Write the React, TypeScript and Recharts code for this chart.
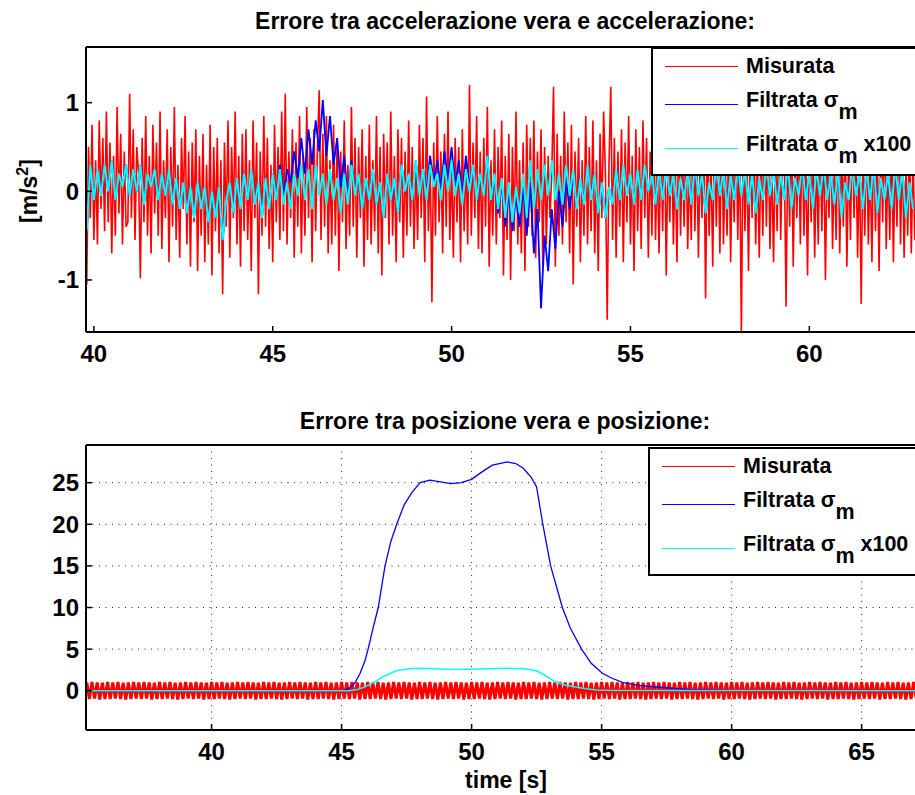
import React from "react";
import { LineChart, Line, XAxis, YAxis, CartesianGrid, Legend } from "recharts";

const FONT = '"Liberation Sans", Arial, Helvetica, sans-serif';
const RED = "#ff0000";
const BLUE = "#0000ff";
const CYAN = "#00ffff";

const TITLES = [
  "Errore tra accelerazione vera e accelerazione:",
  "Errore tra posizione vera e posizione:",
];
const LEGEND_LABELS = ["Misurata", "Filtrata σ", "Filtrata σ"];
const LEGEND_SUBS = ["", "m", "m"];
const LEGEND_SUFFIX = ["", "", " x100"];
const SERIES_COLORS = [RED, BLUE, CYAN];

const ACC_TICKS_X = [40, 45, 50, 55, 60];
const ACC_TICKS_Y = [-1, 0, 1];
const POS_TICKS_X = [40, 45, 50, 55, 60, 65];
const POS_TICKS_Y = [0, 5, 10, 15, 20, 25];

// measured acceleration error, every 0.05 s from 39.8 s (one row = 1 s)
const RED_ACC_T0 = 39.8;
const RED_ACC_DT = 0.05;
const RED_ACC = [
  -1.05, 0.5, -0.3, 0.75, -0.55, 0.35, -0.6, 0.8, -0.2, 0.6, -0.45, 0.9, -0.35, 0.55, -0.7, 0.4, -0.5, 0.95, -0.25, 0.65,
  -0.6, 0.45, -0.4, -0.35, 1.1, -0.3, 0.7, -0.55, 0.5, 0.2, -0.98, 0.6, -0.35, 0.85, -0.5, 0.4, -0.7, 0.75, -0.25, 0.55,
  -0.5, 0.9, -0.65, 0.35, -0.3, 0.7, -0.8, 0.5, -0.4, 0.95, -0.55, 0.3, -0.75, 0.6, -0.2, 0.85, -0.6, 0.45, -0.85, 0.55,
  -0.35, 0.7, -0.9, 0.4, -0.5, 0.65, -0.8, 0.3, -0.6, 0.75, -0.95, 0.5, -0.45, 0.6, -0.7, 0.35, -1.16, 0.55, -0.4, 0.8,
  -0.75, 0.5, -0.3, 0.9, -0.6, 0.4, -0.85, 0.65, -0.45, 0.7, -0.55, 0.35, -0.9, 0.8, -0.3, 0.55, -1.16, 0.45, -0.5, 0.85,
  -0.4, 0.6, -0.65, 0.3, -0.8, 0.75, -0.35, 0.5, -0.55, 0.9, -0.45, 1.1, -0.6, 0.45, -0.3, 0.7, -0.75, 0.55, -0.4, 0.85,
  -0.7, 0.4, -0.5, 0.95, -0.3, 0.6, -0.8, 0.7, -0.45, 0.5, 1.14, -0.55, 0.65, -0.4, 0.85, -0.7, 0.35, -0.6, 0.75, -0.5,
  0.55, -0.9, 0.45, -0.35, 0.8, -0.65, 0.3, -0.5, 0.95, -0.4, 0.6, -0.75, 0.5, -0.3, 0.7, -0.85, 0.4, -0.55, 0.75, -0.6,
  0.35, -0.45, 0.85, -0.7, 0.5, -0.95, 0.65, -0.3, 0.55, -0.6, 0.9, -0.5, 0.4, -0.8, 0.7, -0.35, 0.6, -0.75, 0.45, -0.5,
  0.8, -0.4, 0.5, -0.65, 0.35, -0.55, 0.75, -0.3, 0.6, -0.8, 1.07, -0.45, 0.4, -1.25, 0.55, -0.5, 0.85, -0.35, 0.45, -0.7,
  0.65, -0.4, 0.9, -0.55, 0.3, -0.75, 0.6, -0.35, 0.5, -0.8, 0.7, -0.45, 0.4, -0.6, 1.2, -0.5, 0.55, -0.3, 0.85, -0.65,
  0.45, -0.7, 0.6, -0.4, 0.95, -0.85, 0.35, -0.5, 0.7, -0.6, 0.5, -0.3, 0.8, -0.95, 0.4, -0.55, 0.65, -1.0, 0.5, -0.45,
  0.9, -0.6, 0.35, -0.7, 0.55, -0.9, 0.75, -0.4, 0.6, -0.5, 0.8, -0.75, 0.45, -0.35, 0.7, -0.85, 0.5, -0.6, 0.4, -0.3,
  0.2, 1.18, -0.85, 0.65, -0.5, 0.4, -0.6, 0.9, -0.35, 0.55, -0.7, 0.75, -1.05, 0.45, -0.4, 0.6, -0.8, 0.35, -0.5, 0.85,
  -0.6, 0.5, -0.45, 0.8, -0.7, 0.35, -0.9, 0.65, -0.3, 0.9, 0.2, -1.45, 0.3, 1.18, -0.55, 0.6, -0.75, 0.45, -0.4, 0.7,
  -0.8, 0.55, -0.35, 0.85, -0.6, 0.4, -0.9, 0.7, -0.45, 0.5, -0.65, 0.8, -0.3, 0.6, -0.75, 0.45, -0.5, 0.9, -0.55, 0.35,
  -0.7, 0.65, -0.45, 0.8, -0.95, 0.5, -0.35, 0.75, -0.6, 0.4, -0.8, 0.85, -0.5, 0.55, -0.4, 0.7, -0.65, 0.3, -0.55, 0.9,
  -0.45, 0.6, -0.75, 0.5, -0.3, 0.8, -1.21, 0.65, -0.5, 0.4, -0.85, 0.75, -0.4, 0.55, -0.7, 0.9, -0.6, 0.35, -0.5, 0.7,
  -0.8, 0.45, -0.35, 0.85, -0.55, 0.6, -1.6, 0.7, -0.45, 0.5, -0.9, 0.65, -0.3, 0.8, -0.6, 0.4, -0.75, 0.55, -0.5, 0.85,
  -0.4, 0.7, -0.65, 0.35, -0.8, 0.6, -0.45, 0.9, -0.55, 0.5, 0.4, -1.3, 0.6, -0.4, 0.75, -0.85, 0.5, -0.3, 0.65, -0.6,
  0.8, -0.5, 0.45, -0.95, 0.7, -0.35, 0.55, -0.75, 0.4, -0.6, 0.85, -0.45, 0.6, -1.0, 0.5, -0.3, 0.75, -0.65, 0.35, -0.55,
  0.9, -0.7, 0.5, -0.4, 0.65, -0.85, 0.45, -0.55, 0.8, -0.3, 0.6, -0.75, 0.4, -1.27, 0.55, -0.5, 0.7, -0.6, 0.35, -0.8,
  0.75, -0.45, 0.5, -0.9, 0.6, -0.35, 0.85, -0.65, 0.4, -0.55, 0.7, -0.8, 0.45, -0.4, 0.9, -0.6, 0.55, -0.75, 0.3, -0.5,
  0.65, -0.7, 0.4, -0.55,
];

// filtered acceleration error, every 0.1 s from 39.8 s
const FILT_ACC_T0 = 39.8;
const FILT_ACC_DT = 0.1;
const BLUE_ACC = [
  -0.45, 0.3, -0.1, 0.25, -0.05, 0.3, 0.0, 0.35, -0.1, 0.2,
  0.05, 0.3, -0.05, 0.25, 0.0, 0.3, -0.15, 0.2, 0.05, 0.25,
  -0.1, 0.2, -0.05, 0.25, -0.15, 0.15, -0.2, 0.1, -0.25, 0.05,
  -0.3, 0.1, -0.2, 0.05, -0.35, 0.0, -0.3, 0.05, -0.55, -0.1,
  0.1, -0.25, 0.15, -0.2, 0.2, -0.1, 0.25, -0.15, 0.1, -0.3,
  0.15, -0.2, 0.2, -0.1, 0.3, -0.05, 0.25, 0.1, 0.45, 0.15,
  0.6, 0.2, 0.7, 0.3, 0.8, 0.45, 1.03, 0.4, 0.85, 0.3,
  0.6, 0.05, 0.4, -0.1, 0.35, -0.05, 0.2, -0.2, 0.15, -0.1,
  0.25, -0.15, 0.1, -0.3, 0.2, -0.1, 0.15, -0.25, 0.3, 0.0,
  0.2, -0.1, 0.35, -0.05, 0.25, 0.0, 0.4, 0.1, 0.35, 0.0,
  0.45, 0.1, 0.5, 0.05, 0.35, -0.05, 0.4, 0.05, 0.3, -0.1,
  0.2, -0.05, 0.4, -0.1, 0.15, -0.25, 0.1, -0.4, 0.0, -0.45,
  -0.05, -0.4, 0.1, -0.5, 0.1, -0.7, -0.2, -1.32, -0.5, -0.9,
  -0.2, -0.65, 0.0, -0.4, 0.15, -0.2, 0.25, -0.2, 0.15, -0.15,
  0.3, -0.1, 0.2, -0.25, 0.1, -0.3, 0.05, -0.15, 0.25, -0.1,
  0.3, -0.05, 0.2, -0.15, 0.25, -0.1, 0.3, 0.0, 0.2, -0.15,
  0.25, -0.1, 0.3, -0.05, 0.2, -0.2, 0.15, -0.1, 0.25, -0.15,
  0.3, -0.05, 0.2, -0.25, 0.1, -0.1, 0.3, -0.05, 0.25, -0.2,
  0.2, -0.1, 0.3, -0.05, 0.25, -0.15, 0.2, -0.25, 0.15, -0.1,
  0.3, -0.05, 0.25, -0.15, 0.2, -0.1, 0.3, -0.2, 0.15, -0.05,
  0.3, -0.1, 0.2, -0.2, 0.25, -0.05, 0.3, -0.1, 0.2, -0.15,
  0.25, -0.3, 0.1, -0.1, 0.3, -0.05, 0.2, -0.2, 0.25, -0.1,
  0.3, -0.25, 0.15, -0.1, 0.2, -0.2, 0.3, -0.1, 0.25, -0.3,
  0.1, -0.2,
];
const CYAN_ACC = [
  -0.45, 0.3, -0.1, 0.25, -0.05, 0.3, 0.0, 0.35, -0.1, 0.2,
  0.05, 0.3, -0.05, 0.25, 0.0, 0.3, -0.15, 0.2, 0.05, 0.25,
  -0.1, 0.2, -0.05, 0.25, -0.15, 0.15, -0.2, 0.1, -0.25, 0.05,
  -0.3, 0.1, -0.2, 0.05, -0.35, 0.0, -0.3, 0.05, -0.55, -0.1,
  0.1, -0.25, 0.15, -0.2, 0.2, -0.1, 0.25, -0.15, 0.1, -0.3,
  0.15, -0.2, 0.2, -0.1, 0.25, -0.15, 0.1, -0.2, 0.2, -0.05,
  0.3, -0.1, 0.25, -0.2, 0.3, -0.05, 0.2, -0.15, 0.25, -0.1,
  0.15, -0.25, 0.2, -0.15, 0.3, -0.05, 0.2, -0.2, 0.15, -0.1,
  0.25, -0.15, 0.1, -0.3, 0.2, -0.1, 0.15, -0.25, 0.3, 0.0,
  0.2, -0.1, 0.35, -0.05, 0.25, -0.1, 0.3, 0.05, 0.2, -0.1,
  0.3, 0.0, 0.35, -0.05, 0.2, -0.15, 0.25, 0.0, 0.3, -0.1,
  0.2, -0.05, 0.4, -0.1, 0.2, -0.2, 0.15, -0.3, 0.1, -0.35,
  0.05, -0.25, 0.2, -0.3, 0.35, -0.2, 0.25, -0.1, 0.3, -0.05,
  0.35, -0.1, 0.2, -0.15, 0.3, -0.05, 0.25, -0.2, 0.15, -0.15,
  0.3, -0.1, 0.2, -0.25, 0.1, -0.3, 0.05, -0.15, 0.25, -0.1,
  0.3, -0.05, 0.2, -0.15, 0.25, -0.1, 0.3, 0.0, 0.2, -0.15,
  0.25, -0.1, 0.3, -0.05, 0.2, -0.2, 0.15, -0.1, 0.25, -0.15,
  0.3, -0.05, 0.2, -0.25, 0.1, -0.1, 0.3, -0.05, 0.25, -0.2,
  0.2, -0.1, 0.3, -0.05, 0.25, -0.15, 0.2, -0.25, 0.15, -0.1,
  0.3, -0.05, 0.25, -0.15, 0.2, -0.1, 0.3, -0.2, 0.15, -0.05,
  0.3, -0.1, 0.2, -0.2, 0.25, -0.05, 0.3, -0.1, 0.2, -0.15,
  0.25, -0.3, 0.1, -0.1, 0.3, -0.05, 0.2, -0.2, 0.25, -0.1,
  0.3, -0.25, 0.15, -0.1, 0.2, -0.2, 0.3, -0.1, 0.25, -0.3,
  0.1, -0.2,
];

// position error: measured (dense oscillation) every 0.1 s from 35.2 s
const POS_T0 = 35.2;
const POS_DT = 0.1;
const RED_POS = [
  1.0, -1.0, 1.05, -0.95, 1.0, -1.05, 0.95, -1.0, 1.05, -1.0,
  1.0, -0.95, 1.05, -1.0, 0.95, -1.05, 1.0, -1.0, 1.05, -0.95,
  1.0, -1.0, 1.05, -0.95, 1.0, -1.05, 0.95, -1.0, 1.05, -1.0,
  1.0, -0.95, 1.05, -1.0, 0.95, -1.05, 1.0, -1.0, 1.05, -0.95,
  1.0, -1.0, 1.05, -0.95, 1.0, -1.05, 0.95, -1.0, 1.05, -1.0,
  1.0, -0.95, 1.05, -1.0, 0.95, -1.05, 1.0, -1.0, 1.05, -0.95,
  1.0, -1.0, 1.05, -0.95, 1.0, -1.05, 0.95, -1.0, 1.05, -1.0,
  1.0, -0.95, 1.05, -1.0, 0.95, -1.05, 1.0, -1.0, 1.05, -0.95,
  1.0, -1.0, 1.05, -0.95, 1.0, -1.05, 0.95, -1.0, 1.05, -1.0,
  1.0, -0.95, 1.05, -1.0, 0.95, -1.05, 1.0, -1.0, 1.05, -0.95,
  1.0, -1.0, 1.05, -0.95, 1.0, -1.05, 0.95, -1.0, 1.05, -1.0,
  1.0, -0.95, 1.05, -1.0, 0.95, -1.05, 1.0, -1.0, 1.05, -0.95,
  1.0, -1.0, 1.05, -0.95, 1.0, -1.05, 0.95, -1.0, 1.05, -1.0,
  1.0, -0.95, 1.05, -1.0, 0.95, -1.05, 1.0, -1.0, 1.05, -0.95,
  1.0, -1.0, 1.05, -0.95, 1.0, -1.05, 0.95, -1.0, 1.05, -1.0,
  1.0, -0.95, 1.05, -1.0, 0.95, -1.05, 1.0, -1.0, 1.05, -0.95,
  1.0, -1.0, 1.05, -0.95, 1.0, -1.05, 0.95, -1.0, 1.05, -1.0,
  1.0, -0.95, 1.05, -1.0, 0.95, -1.05, 1.0, -1.0, 1.05, -0.95,
  1.0, -1.0, 1.05, -0.95, 1.0, -1.05, 0.95, -1.0, 1.05, -1.0,
  1.0, -0.95, 1.05, -1.0, 0.95, -1.05, 1.0, -1.0, 1.05, -0.95,
  1.0, -1.0, 1.05, -0.95, 1.0, -1.05, 0.95, -1.0, 1.05, -1.0,
  1.0, -0.95, 1.05, -1.0, 0.95, -1.05, 1.0, -1.0, 1.05, -0.95,
  1.0, -1.0, 1.05, -0.95, 1.0, -1.05, 0.95, -1.0, 1.05, -1.0,
  1.0, -0.95, 1.05, -1.0, 0.95, -1.05, 1.0, -1.0, 1.05, -0.95,
  1.0, -1.0, 1.05, -0.95, 1.0, -1.05, 0.95, -1.0, 1.05, -1.0,
  1.0, -0.95, 1.05, -1.0, 0.95, -1.05, 1.0, -1.0, 1.05, -0.95,
  1.0, -1.0, 1.05, -0.95, 1.0, -1.05, 0.95, -1.0, 1.05, -1.0,
  1.0, -0.95, 1.05, -1.0, 0.95, -1.05, 1.0, -1.0, 1.05, -0.95,
  1.0, -1.0, 1.05, -0.95, 1.0, -1.05, 0.95, -1.0, 1.05, -1.0,
  1.0, -0.95, 1.05, -1.0, 0.95, -1.05, 1.0, -1.0, 1.05, -0.95,
  1.0, -1.0, 1.05, -0.95, 1.0, -1.05, 0.95, -1.0, 1.05, -1.0,
  1.0, -0.95, 1.05, -1.0, 0.95, -1.05, 1.0, -1.0, 1.05, -0.95,
];
const BLUE_POS_T = [
  35.2, 44.9, 45.1, 45.3, 45.5, 45.7, 45.9, 46.02, 46.2, 46.41, 46.67, 46.9,
  47.12, 47.4, 47.7, 48.02, 48.4, 48.8, 49.2, 49.6, 50.0, 50.4, 50.8, 51.37,
  51.7, 52.0, 52.3, 52.5, 52.74, 53.04, 53.49, 53.8, 54.23, 54.6, 55.03, 55.4,
  55.8, 56.4, 57.08, 58.35, 60.0, 67.2,
];
const BLUE_POS_V = [
  0, 0, 0.05, 0.3, 0.9, 2.0, 3.6, 5.0, 7.4, 10.0, 15.0, 18.0,
  20.0, 22.3, 23.8, 25.0, 25.3, 25.1, 24.9, 25.0, 25.4, 26.3, 27.1, 27.5,
  27.3, 26.7, 25.6, 24.5, 20.0, 15.0, 10.0, 7.5, 5.0, 3.3, 2.1, 1.5,
  1.0, 0.65, 0.45, 0.15, 0.05, 0,
];
const CYAN_POS_T = [
  35.2, 45.3, 45.6, 45.8, 46.05, 46.3, 46.6, 47.1, 47.6, 48.1, 48.8, 49.4,
  50.2, 51.3, 52.0, 52.5, 52.85, 53.2, 53.6, 54.0, 54.4, 54.8, 55.5, 67.2,
];
const CYAN_POS_V = [
  0, 0, 0.15, 0.35, 0.7, 1.1, 1.7, 2.4, 2.65, 2.7, 2.6, 2.55,
  2.6, 2.7, 2.65, 2.4, 1.8, 1.1, 0.7, 0.45, 0.25, 0.1, 0.03, 0,
];

const redAccData = RED_ACC.map((v, i) => ({ t: +(RED_ACC_T0 + i * RED_ACC_DT).toFixed(2), v }));
const filtAccData = BLUE_ACC.map((v, i) => ({
  t: +(FILT_ACC_T0 + i * FILT_ACC_DT).toFixed(2),
  blue: v,
  cyan: CYAN_ACC[i],
}));
const redPosData = RED_POS.map((v, i) => ({ t: +(POS_T0 + i * POS_DT).toFixed(2), v }));
const bluePosData = BLUE_POS_T.map((t, i) => ({ t, v: BLUE_POS_V[i] }));
const cyanPosData = CYAN_POS_T.map((t, i) => ({ t, v: CYAN_POS_V[i] }));

const tickFont = { fill: "#000", fontSize: 24, fontWeight: 700, fontFamily: FONT };
const axisLine = { stroke: "#000", strokeWidth: 2 };
const tickLine = { stroke: "#000", strokeWidth: 1.5 };

function AxisTitle({ lx, ly, text, sup, rotate }: { lx: number; ly: number; text: string; sup?: string; rotate?: boolean }) {
  return (
    <text
      x={lx}
      y={ly}
      transform={rotate ? `rotate(-90 ${lx} ${ly})` : undefined}
      textAnchor="middle"
      fontFamily={FONT}
      fontWeight={700}
      fontSize={23}
      fill="#000"
    >
      {text}
      {sup ? <tspan dy={-9} fontSize={16}>{sup}</tspan> : null}
      {sup ? <tspan dy={9}>]</tspan> : null}
    </text>
  );
}

const LINE_TOPS = [17, 55, 99];
const TEXT_TOPS = [6, 40, 84];

function MatlabLegend() {
  return (
    <div
      style={{
        position: "relative",
        width: 290,
        height: 129,
        boxSizing: "border-box",
        border: "2px solid #000",
        background: "#fff",
        fontFamily: FONT,
        fontWeight: 700,
        fontSize: 21.5,
        color: "#000",
      }}
    >
      {SERIES_COLORS.map((c, i) => (
        <React.Fragment key={i}>
          <div style={{ position: "absolute", left: 12, width: 73, top: LINE_TOPS[i], borderTop: `1.3px solid ${c}` }} />
          <div style={{ position: "absolute", left: 93, top: TEXT_TOPS[i], lineHeight: "23px", whiteSpace: "nowrap" }}>
            {LEGEND_LABELS[i]}
            {LEGEND_SUBS[i] ? <span style={{ position: "relative", top: 12 }}>{LEGEND_SUBS[i]}</span> : null}
            {LEGEND_SUFFIX[i]}
          </div>
        </React.Fragment>
      ))}
    </div>
  );
}

function Title({ top, text }: { top: number; text: string }) {
  return (
    <div
      style={{
        position: "absolute",
        left: 0,
        width: 1010,
        top,
        textAlign: "center",
        fontFamily: FONT,
        fontWeight: 700,
        fontSize: 23,
        lineHeight: "23px",
        color: "#000",
      }}
    >
      {text}
    </div>
  );
}

function AccChart() {
  const dom: [number, number] = [39.78, 63.01];
  return (
    <LineChart width={930} height={400} margin={{ top: 0, right: 13, bottom: 0, left: 0 }}>
      <XAxis xAxisId="b" type="number" dataKey="t" domain={dom} ticks={ACC_TICKS_X} interval={0}
        allowDataOverflow height={68} tickSize={-6} tickMargin={19} tick={tickFont} axisLine={axisLine} tickLine={tickLine} />
      <XAxis xAxisId="t" orientation="top" type="number" dataKey="t" domain={dom} ticks={ACC_TICKS_X} interval={0}
        allowDataOverflow height={47} tickSize={-6} tick={false} axisLine={axisLine} tickLine={tickLine} />
      <YAxis yAxisId="l" type="number" domain={[-1.587, 1.628]} ticks={ACC_TICKS_Y} interval={0}
        allowDataOverflow width={86} tickSize={-6} tickMargin={13} tick={tickFont} axisLine={axisLine} tickLine={tickLine}
        label={<AxisTitle lx={37} ly={191} text="[m/s" sup="2" rotate />} />
      <Line xAxisId="b" yAxisId="l" data={redAccData} dataKey="v" stroke={RED} strokeWidth={1.6} dot={false} type="linear" isAnimationActive={false} />
      <Line xAxisId="b" yAxisId="l" data={filtAccData} dataKey="blue" stroke={BLUE} strokeWidth={1.8} dot={false} type="linear" isAnimationActive={false} />
      <Line xAxisId="b" yAxisId="l" data={filtAccData} dataKey="cyan" stroke={CYAN} strokeWidth={2} dot={false} type="linear" isAnimationActive={false} />
      <Legend layout="horizontal" verticalAlign="middle" align="center"
        wrapperStyle={{ left: 651, top: 47, width: 290, height: 129 }} content={() => <MatlabLegend />} />
    </LineChart>
  );
}

function PosChart() {
  const dom: [number, number] = [35.17, 67.13];
  return (
    <LineChart width={930} height={395} margin={{ top: 0, right: 13, bottom: 0, left: 0 }}>
      <CartesianGrid xAxisId="b" yAxisId="l" stroke="#222" strokeDasharray="1 5.5" />
      <XAxis xAxisId="b" type="number" dataKey="t" domain={dom} ticks={POS_TICKS_X} interval={0}
        allowDataOverflow height={65} tickSize={-6} tickMargin={19} tick={tickFont} axisLine={axisLine} tickLine={tickLine}
        label={<AxisTitle lx={506} ly={388} text="time [s]" />} />
      <XAxis xAxisId="t" orientation="top" type="number" dataKey="t" domain={dom} ticks={POS_TICKS_X} interval={0}
        allowDataOverflow height={45} tickSize={-6} tick={false} axisLine={axisLine} tickLine={tickLine} />
      <YAxis yAxisId="l" type="number" domain={[-4.72, 29.53]} ticks={POS_TICKS_Y} interval={0}
        allowDataOverflow width={86} tickSize={-6} tickMargin={13} tick={tickFont} axisLine={axisLine} tickLine={tickLine}
        label={<AxisTitle lx={37} ly={588} text="[m]" rotate />} />
      <Line xAxisId="b" yAxisId="l" data={redPosData} dataKey="v" stroke={RED} strokeWidth={3} dot={false} type="linear" isAnimationActive={false} />
      <Line xAxisId="b" yAxisId="l" data={bluePosData} dataKey="v" stroke={BLUE} strokeWidth={1.3} dot={false} type="linear" isAnimationActive={false} />
      <Line xAxisId="b" yAxisId="l" data={cyanPosData} dataKey="v" stroke={CYAN} strokeWidth={1.5} dot={false} type="linear" isAnimationActive={false} />
      <Legend layout="horizontal" verticalAlign="middle" align="center"
        wrapperStyle={{ left: 648, top: 47, width: 290, height: 129 }} content={() => <MatlabLegend />} />
    </LineChart>
  );
}

export default function App() {
  return (
    <div style={{ position: "absolute", left: 0, top: 0, width: 915, height: 795, overflow: "hidden", background: "#fff" }}>
      <div style={{ position: "absolute", left: 0, top: 0 }}>
        <AccChart />
      </div>
      <div style={{ position: "absolute", left: 0, top: 400 }}>
        <PosChart />
      </div>
      <Title top={9.8} text={TITLES[0]} />
      <Title top={409.8} text={TITLES[1]} />
    </div>
  );
}
